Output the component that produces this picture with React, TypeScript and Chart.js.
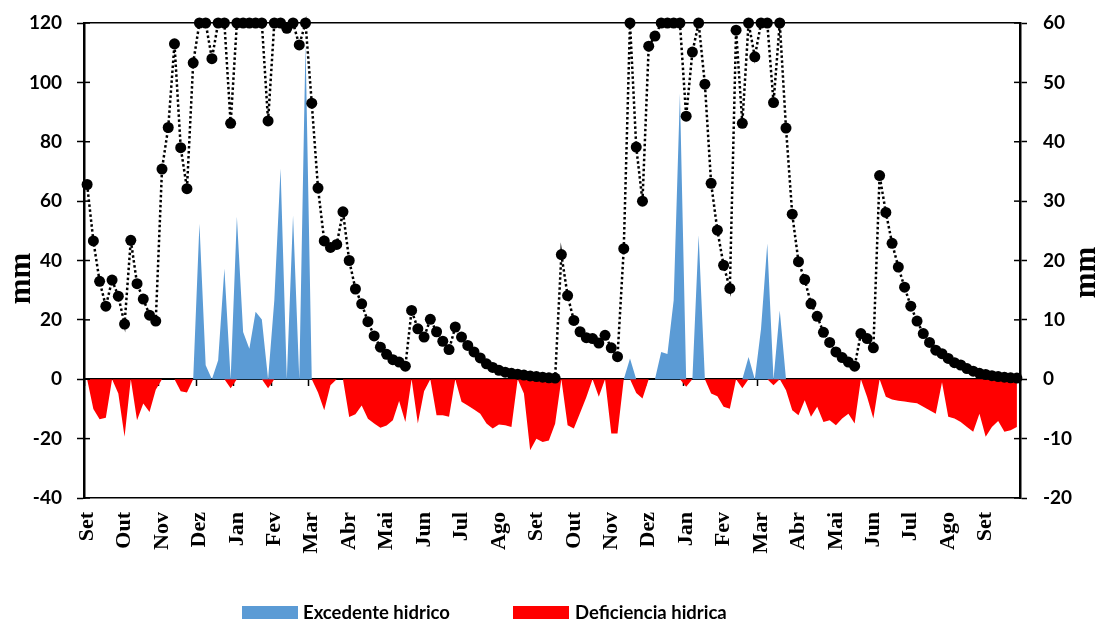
import React, { useEffect, useRef } from 'react';
import { Chart, registerables } from 'chart.js';

Chart.register(...registerables);

// Month labels (one every 6 five-day periods)
const months = ['Set', 'Out', 'Nov', 'Dez', 'Jan', 'Fev', 'Mar', 'Abr', 'Mai', 'Jun', 'Jul', 'Ago', 'Set',
  'Out', 'Nov', 'Dez', 'Jan', 'Fev', 'Mar', 'Abr', 'Mai', 'Jun', 'Jul', 'Ago', 'Set'];
const periodsPerMonth = 6;

// Soil water storage (right axis, mm)
const storage = [
  32.8, 23.3, 16.5, 12.3, 16.7, 14.0, 9.3, 23.4, 16.1, 13.5,
  10.8, 9.8, 35.4, 42.4, 56.5, 39.0, 32.1, 53.3, 60, 60,
  54.0, 60, 60, 43.1, 60, 60, 60, 60, 60, 43.5,
  60, 60, 59.1, 60, 56.3, 60, 46.5, 32.2, 23.3, 22.2,
  22.7, 28.2, 20.0, 15.2, 12.7, 9.7, 7.3, 5.4, 4.2, 3.3,
  2.9, 2.2, 11.6, 8.5, 7.1, 10.1, 8.0, 6.4, 5.0, 8.8,
  7.1, 5.7, 4.6, 3.6, 2.6, 2.0, 1.5, 1.2, 1.0, 0.85,
  0.7, 0.55, 0.45, 0.35, 0.25, 0.2, 21.0, 14.1, 9.9, 8.0,
  7.0, 6.85, 6.1, 7.4, 5.3, 3.8, 22.0, 60, 39.1, 30.0,
  56.1, 57.8, 60, 60, 60, 60, 44.3, 55.1, 60, 49.7,
  33.0, 25.1, 19.2, 15.3, 58.8, 43.1, 60, 54.3, 60, 60,
  46.6, 60, 42.3, 27.8, 19.8, 16.8, 12.7, 10.6, 7.9, 6.2,
  4.6, 3.65, 2.9, 2.2, 7.7, 6.85, 5.3, 34.3, 28.1, 22.9,
  18.9, 15.5, 12.3, 9.8, 7.7, 6.2, 4.9, 4.3, 3.5, 2.8,
  2.4, 1.8, 1.35, 1.0, 0.8, 0.6, 0.45, 0.35, 0.25, 0.2,
];

// Excedente hidrico (left axis, mm)
const excess = [
  0, 0, 0, 0, 0, 0, 0, 0, 0, 0,
  0, 0, 0, 0, 0, 0, 0, 0, 52.4, 4.7,
  0, 6.4, 37.3, 0, 54.7, 15.9, 10.3, 22.7, 20.1, 0,
  26.6, 71.0, 0, 55.2, 0, 113, 0, 0, 0, 0,
  0, 0, 0, 0, 0, 0, 0, 0, 0, 0,
  0, 0, 0, 0, 0, 0, 0, 0, 0, 0,
  0, 0, 0, 0, 0, 0, 0, 0, 0, 0,
  0, 0, 0, 0, 0, 0, 0, 0, 0, 0,
  0, 0, 0, 0, 0, 0, 0, 7.0, 0, 0,
  0, 0, 9.2, 8.5, 26.6, 96.2, 0, 0, 48.5, 0,
  0, 0, 0, 0, 0, 0, 7.5, 0, 17, 45.7,
  0, 23.2, 0, 0, 0, 0, 0, 0, 0, 0,
  0, 0, 0, 0, 0, 0, 0, 0, 0, 0,
  0, 0, 0, 0, 0, 0, 0, 0, 0, 0,
  0, 0, 0, 0, 0, 0, 0, 0, 0, 0,
];

// Deficiencia hidrica (left axis, mm)
const deficit = [
  0, -10, -13.5, -13, 0, -4.8, -19.4, 0, -13.8, -8.2,
  -11.0, -3.5, 0, 0, 0, -4, -4.5, 0, 0, 0,
  0, 0, 0, -3, 0, 0, 0, 0, 0, -3,
  0, 0, 0, 0, 0, 0, 0, -4.5, -10.4, -2,
  0, 0, -12.7, -11.8, -8.8, -13.3, -14.9, -16.3, -15.6, -13.8,
  -7.3, -14.4, 0, -14.9, -4, 0, -12.1, -12.1, -12.6, 0,
  -7.6, -8.8, -10.2, -11.6, -14.9, -16.6, -15.2, -15.5, -16.1, 0,
  -4.8, -23.9, -20.0, -21.1, -20.6, -15, 0, -15.5, -16.6, -11.4,
  -6.1, 0, -5.9, 0, -18.3, -18.3, 0, 0, -4.6, -6.5,
  0, 0, 0, 0, 0, 0, -2.5, 0, 0, 0,
  -4.8, -5.7, -9.3, -9.9, 0, -3, 0, 0, 0, 0,
  -2, 0, -3.7, -10.4, -12.1, -7.1, -12.6, -9.3, -14.4, -13.8,
  -15.5, -13.2, -11.6, -14.9, 0, -6, -13.2, 0, -5.9, -6.8,
  -7.2, -7.5, -7.8, -8.1, -9.3, -10.4, -11.6, -1, -12.6, -13.2,
  -14.4, -16.1, -17.7, -11.6, -19.4, -16.1, -14.1, -17.7, -17.2, -16.1,
];

const seriesNames = ['Excedente hidrico', 'Deficiencia hidrica'];
const seriesColors = ['#5B9BD5', '#FF0000'];
const axisTitle = 'mm';

const labels = storage.map((_, i) => (i % periodsPerMonth === 0 ? months[i / periodsPerMonth] : ''));

const serif = '"Liberation Serif", "Times New Roman", serif';
const sans = 'Lato, "Open Sans", sans-serif';

// Inner half of the crossing tick marks and the two rotated axis titles
const axisExtras = {
  id: 'axisExtras',
  afterDraw(chart: any) {
    const ctx = chart.ctx;
    ctx.save();
    ctx.strokeStyle = '#000';
    ctx.lineWidth = 1.5;
    ['y', 'y2'].forEach((id) => {
      const s = chart.scales[id];
      if (!s) return;
      const edge = id === 'y' ? s.right : s.left;
      const dir = id === 'y' ? 1 : -1;
      s.ticks.forEach((_: any, i: number) => {
        const py = s.getPixelForTick(i);
        ctx.beginPath();
        ctx.moveTo(edge, py);
        ctx.lineTo(edge + dir * 6, py);
        ctx.stroke();
      });
    });
    const area = chart.chartArea;
    const cy = (area.top + area.bottom) / 2;
    ctx.fillStyle = '#000';
    ctx.font = `bold 31px ${serif}`;
    ctx.textAlign = 'center';
    ctx.textBaseline = 'alphabetic';
    const drawTitle = (x: number, y: number) => {
      ctx.save();
      ctx.translate(x, y);
      ctx.rotate(-Math.PI / 2);
      ctx.fillText(axisTitle, 0, 0);
      ctx.restore();
    };
    drawTitle(chart.scales.y.left + 29.5, cy + 18);
    drawTitle(chart.scales.y2.right - 4.5, cy + 12);
    ctx.restore();
  },
};

export default function App() {
  const ref = useRef<HTMLCanvasElement>(null);

  useEffect(() => {
    if (!ref.current) return;
    const chart = new Chart(ref.current, {
      type: 'line',
      data: {
        labels,
        datasets: [
          {
            label: 'Armazenamento',
            data: storage,
            xAxisID: 'x',
            yAxisID: 'y2',
            order: 0,
            borderColor: '#000',
            borderWidth: 2.5,
            borderDash: [2.5, 2.5],
            pointRadius: 5.5,
            pointBackgroundColor: '#000',
            pointBorderColor: '#000',
            pointBorderWidth: 0,
            fill: false,
            tension: 0,
            clip: false,
          } as any,
          {
            label: seriesNames[0],
            data: excess,
            xAxisID: 'x',
            yAxisID: 'y',
            order: 1,
            borderWidth: 0,
            borderColor: seriesColors[0],
            backgroundColor: seriesColors[0],
            pointRadius: 0,
            fill: 'origin',
            tension: 0,
          },
          {
            label: seriesNames[1],
            data: deficit,
            xAxisID: 'x',
            yAxisID: 'y',
            order: 2,
            borderWidth: 0,
            borderColor: seriesColors[1],
            backgroundColor: seriesColors[1],
            pointRadius: 0,
            fill: 'origin',
            tension: 0,
          },
        ],
      },
      options: {
        animation: false,
        responsive: false,
        devicePixelRatio: 1,
        layout: { padding: 0 },
        plugins: {
          legend: { display: false },
          tooltip: { enabled: false },
        },
        scales: {
          x: {
            type: 'category',
            position: 'bottom',
            offset: true,
            grid: { display: false, drawTicks: false },
            border: { display: true, color: '#000', width: 1.5 },
            ticks: {
              autoSkip: false,
              maxRotation: 90,
              minRotation: 90,
              padding: 14,
              color: '#000',
              font: { family: serif, size: 22, weight: 'bold' },
            },
            afterFit: (s: any) => { s.height = 128; s.paddingLeft = 0; s.paddingRight = 0; },
          },
          x0: {
            type: 'category',
            position: { y: 0 },
            offset: true,
            grid: {
              display: true,
              offset: true,
              drawOnChartArea: false,
              drawTicks: true,
              tickLength: 6,
              tickWidth: 1.5,
              tickColor: (c: any) => (c.index !== undefined && c.index % periodsPerMonth === 0 ? '#000' : 'rgba(0,0,0,0)'),
            },
            border: { display: true, color: '#000', width: 2 },
            ticks: { display: false, autoSkip: false },
          } as any,
          xTop: {
            type: 'category',
            position: 'top',
            offset: true,
            grid: { display: false, drawTicks: false },
            border: { display: true, color: '#000', width: 1.5 },
            ticks: { display: false },
            afterFit: (s: any) => { s.height = 23; },
          },
          y: {
            type: 'linear',
            position: 'left',
            min: -40,
            max: 120,
            ticks: {
              stepSize: 20,
              padding: 15,
              color: '#000',
              font: { family: sans, size: 19, weight: 'bold' },
            },
            grid: {
              display: true,
              drawOnChartArea: false,
              drawTicks: true,
              tickLength: 7,
              tickWidth: 1.5,
              tickColor: '#000',
            },
            border: { display: true, color: '#000', width: 2.5 },
            afterFit: (s: any) => { s.width = 84; s.paddingTop = 0; s.paddingBottom = 0; },
          },
          y2: {
            type: 'linear',
            position: 'right',
            min: -20,
            max: 60,
            ticks: {
              stepSize: 10,
              padding: 16,
              color: '#000',
              font: { family: sans, size: 19, weight: 'bold' },
            },
            grid: {
              display: true,
              drawOnChartArea: false,
              drawTicks: true,
              tickLength: 7,
              tickWidth: 1.5,
              tickColor: '#000',
            },
            border: { display: true, color: '#000', width: 2.5 },
            afterFit: (s: any) => { s.width = 79; s.paddingTop = 0; s.paddingBottom = 0; },
          },
        },
      } as any,
      plugins: [axisExtras],
    });
    return () => chart.destroy();
  }, []);

  const legendBoxLefts = [242, 513];
  const legendTextLefts = [303, 575];

  return (
    <div style={{ position: 'fixed', left: 0, top: 0, width: 1099, height: 626, background: '#fff', overflow: 'hidden' }}>
      <canvas ref={ref} width={1099} height={626} style={{ position: 'absolute', left: 0, top: 0, width: 1099, height: 626 }} />
      {seriesNames.map((name, i) => (
        <React.Fragment key={name}>
          <div style={{ position: 'absolute', left: legendBoxLefts[i], top: 606, width: 56, height: 13, background: seriesColors[i] }} />
          <div style={{ position: 'absolute', left: legendTextLefts[i], top: 603, font: `bold 18.5px ${sans}`, lineHeight: '18.5px', color: '#000', whiteSpace: 'nowrap' }}>{name}</div>
        </React.Fragment>
      ))}
    </div>
  );
}
